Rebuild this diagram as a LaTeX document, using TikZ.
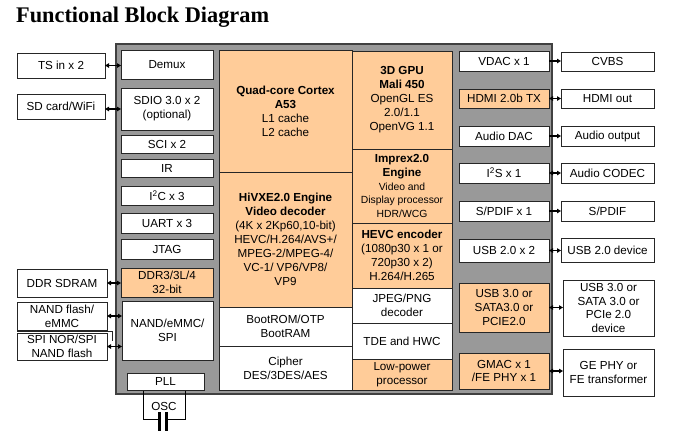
\documentclass[tikz,border=0pt]{standalone}
\usepackage{fontspec}
\setmainfont{Liberation Sans}
\newfontfamily\titlefont{Liberation Serif}
\usetikzlibrary{arrows.meta}
\definecolor{chipgray}{RGB}{153,153,153}
\definecolor{peach}{RGB}{255,204,153}
\newcommand\smtxt{\fontsize{10.4}{12.5}\selectfont}
\newcommand\mkblk[7]{%
  \pgfmathsetmacro\bkw{#4-#2}\pgfmathsetmacro\bkh{#5-#3}%
  \node[blkbase,#6,minimum width=\bkw bp,minimum height=\bkh bp,anchor=north west] (#1) at (#2,#3) {#7};}
\tikzset{
  blkbase/.style={draw=black!85,line width=0.7bp,fill=white,inner sep=0pt,outer sep=0pt,
    align=center,font=\fontsize{11.7}{14}\selectfont},
  biarrow/.style={{Triangle[length=4bp,width=4.5bp]}-{Triangle[length=4bp,width=4.5bp]},line width=1.3bp},
  oneway/.style={-{Triangle[length=4bp,width=4.5bp]},line width=1.3bp},
}
\begin{document}
\begin{tikzpicture}[x=1bp,y=-1bp]
\useasboundingbox (0,0) rectangle (675,431);
\node[anchor=base west,inner sep=0pt,font=\titlefont\bfseries\fontsize{22.4}{24}\selectfont] (title) at (16,22) {Functional Block Diagram};
% chip
\mkblk{chip}{116}{44}{552}{394}{fill=chipgray,draw=black!75,line width=1.1bp}{}
% PLL / OSC
\draw[line width=0.7bp] (143,390) -- (143,419) -- (160,419);
\draw[line width=0.7bp] (185,390) -- (185,419) -- (167,419);
\fill (158,412) rectangle (161.2,431);
\fill (164.5,412) rectangle (167.7,431);
\node[font=\fontsize{11.7}{14}\selectfont,inner sep=0pt] (osc) at (164,406) {OSC};
% left interfaces
\mkblk{demux}{121}{50}{213}{79}{}{Demux}
\mkblk{sdio}{121}{88}{213}{130}{}{SDIO 3.0 x 2\\(optional)}
\mkblk{sci}{121}{135}{213}{153}{}{SCI x 2}
\mkblk{ir}{121}{159}{213}{177}{}{IR}
\mkblk{i2c}{121}{186}{213}{205}{}{I\textsuperscript{2}C x 3}
\mkblk{uart}{121}{213}{213}{233}{}{UART x 3}
\mkblk{jtag}{121}{239}{213}{259}{}{JTAG}
\mkblk{ddr}{121}{268}{213}{297}{fill=peach}{DDR3/3L/4\\32-bit}
\mkblk{nand}{122}{301}{213}{360}{}{NAND/eMMC/\\SPI}
\mkblk{pll}{127}{373}{204}{390}{}{PLL}
% center
\mkblk{cpu}{219}{50}{352}{172}{fill=peach}{\textbf{Quad-core Cortex}\\\textbf{A53}\\L1 cache\\L2 cache}
\mkblk{vdec}{219}{172}{352}{307}{fill=peach}{\textbf{HiVXE2.0 Engine}\\\textbf{Video decoder}\\(4K x 2Kp60,10-bit)\\HEVC/H.264/AVS+/\\MPEG-2/MPEG-4/\\VC-1/ VP6/VP8/\\VP9}
\mkblk{boot}{219}{307}{352}{346}{}{BootROM/OTP\\BootRAM}
\mkblk{cipher}{219}{346}{352}{390}{}{Cipher\\DES/3DES/AES}
\mkblk{gpu}{352}{51}{452}{149}{fill=peach}{\textbf{3D GPU}\\\textbf{Mali 450}\\OpenGL ES\\2.0/1.1\\OpenVG 1.1}
\mkblk{imprex}{352}{149}{452}{223}{fill=peach}{\textbf{Imprex2.0}\\\textbf{Engine}\\\smtxt Video and\\\smtxt Display processor\\\smtxt HDR/WCG}
\mkblk{henc}{352}{223}{452}{288}{fill=peach}{\textbf{HEVC encoder}\\(1080p30 x 1 or\\720p30 x 2)\\H.264/H.265}
\mkblk{jpeg}{352}{288}{452}{323}{}{JPEG/PNG\\decoder}
\mkblk{tde}{352}{323}{452}{359}{}{TDE and HWC}
\mkblk{lpp}{352}{359}{452}{390}{fill=peach}{Low-power\\processor}
% right interfaces
\mkblk{vdac}{459}{51}{549}{71}{}{VDAC x 1}
\mkblk{hdmi}{459}{89}{549}{108}{fill=peach}{HDMI 2.0b TX}
\mkblk{adac}{459}{126}{549}{146}{}{Audio DAC}
\mkblk{i2s}{459}{163}{549}{183}{}{I\textsuperscript{2}S x 1}
\mkblk{spdif}{459}{201}{549}{221}{}{S/PDIF x 1}
\mkblk{usb2}{459}{239}{549}{262}{}{USB 2.0 x 2}
\mkblk{usb3}{459}{283}{549}{332}{fill=peach}{USB 3.0 or\\SATA3.0 or\\PCIE2.0}
\mkblk{gmac}{459}{353}{549}{389}{fill=peach}{GMAC x 1\\/FE PHY x 1}
% right externals
\mkblk{cvbs}{561}{52}{654}{71}{}{CVBS}
\mkblk{hdmiout}{561}{89}{654}{108}{}{HDMI out}
\mkblk{aout}{561}{126}{654}{146}{}{Audio output}
\mkblk{codec}{561}{163}{654}{183}{}{Audio CODEC}
\mkblk{spdifo}{561}{201}{654}{221}{}{S/PDIF}
\mkblk{usb2d}{561}{238}{654}{262}{}{USB 2.0 device}
\mkblk{usb3d}{563}{280}{654}{336}{}{USB 3.0 or\\SATA 3.0 or\\PCIe 2.0\\device}
\mkblk{gephy}{563}{349}{654}{396}{}{GE PHY or\\FE transformer}
% left externals
\mkblk{tsin}{17}{53}{105}{78}{}{TS in x 2}
\mkblk{sdcard}{17}{94}{105}{119}{}{SD card/WiFi}
\mkblk{sdram}{17}{269}{107}{297}{}{DDR SDRAM}
\mkblk{nandf}{17}{302}{107}{330}{}{NAND flash/\\eMMC}
\draw[line width=0.7bp,draw=black!85] (17,331) -- (112,331) -- (112,341);
\mkblk{spinor}{17}{333}{107}{360}{}{SPI NOR/SPI\\NAND flash}
% connectors
\draw[biarrow] (tsin.east) -- (tsin.east -| demux.west);
\draw[biarrow] (sdcard.east |- sdio.west) -- (sdio.west);
\draw[biarrow] (sdram.east) -- (sdram.east -| ddr.west);
\draw[biarrow] (nandf.east) -- (nandf.east -| nand.west);
\draw[biarrow] (spinor.east) -- (spinor.east -| nand.west);
\draw[oneway] (vdac.east) -- (vdac.east -| cvbs.west);
\draw[biarrow] (hdmi.east) -- (hdmi.east -| hdmiout.west);
\draw[oneway] (adac.east) -- (adac.east -| aout.west);
\draw[biarrow] (i2s.east) -- (i2s.east -| codec.west);
\draw[oneway] (spdif.east) -- (spdif.east -| spdifo.west);
\draw[biarrow] (usb2.east) -- (usb2.east -| usb2d.west);
\draw[biarrow] (usb3.east) -- (usb3.east -| usb3d.west);
\draw[biarrow] (gmac.east) -- (gmac.east -| gephy.west);
\end{tikzpicture}
\end{document}
